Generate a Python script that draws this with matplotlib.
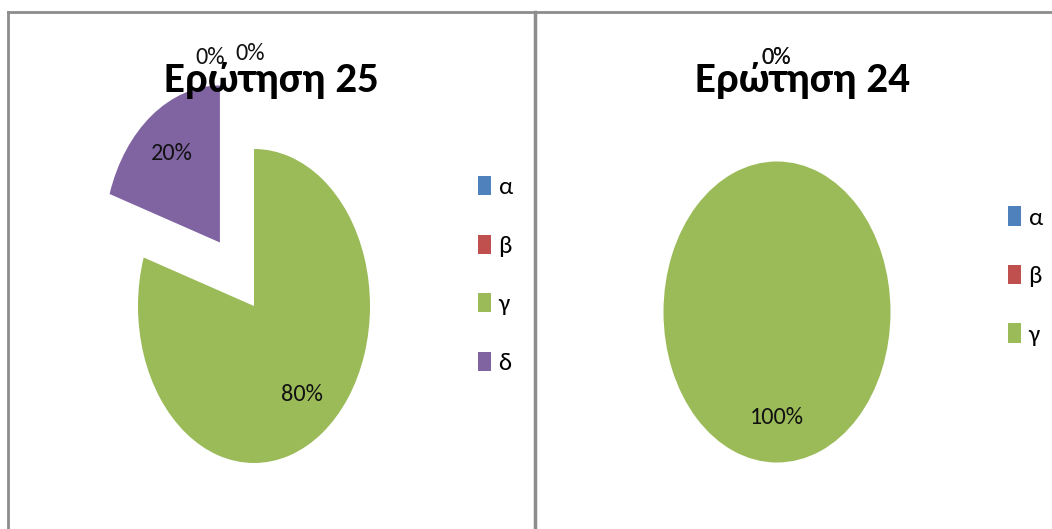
import matplotlib
matplotlib.use("Agg")
import matplotlib.pyplot as plt
from matplotlib.patches import Patch
from matplotlib.lines import Line2D

plt.rcParams['font.family'] = ['Carlito', 'DejaVu Sans']

# data
labels_25 = ['α', 'β', 'γ', 'δ']
values_25 = [0, 0, 80, 20]
labels_24 = ['α', 'β', 'γ']
values_24 = [0, 0, 100]
titles = ['Ερώτηση 25', 'Ερώτηση 24']
colors = ['#4F81BD', '#C0504D', '#9BBB59', '#8064A2']

W, H = 1052, 529


def fx(x):
    return x / W


def fy(y):
    return 1 - y / H


fig = plt.figure(figsize=(W / 100, H / 100), dpi=100)
fig.patch.set_facecolor('white')


def draw_pie(x0, x1, cx, cy, sx, sy, values, labels, explode, zero_pos, legend_xy, title_xy, title):
    ax = fig.add_axes([fx(x0), 0, fx(x1) - fx(x0), fy(12)])
    wedges, texts, autotexts = ax.pie(
        values, colors=colors[:len(values)], startangle=90, counterclock=False,
        explode=explode, autopct='%1.0f%%', pctdistance=0.7,
        wedgeprops=dict(linewidth=0),
        textprops=dict(fontsize=17.5, color='#111111'))
    ax.set_aspect('auto')
    ax.set_xlim((x0 - cx) / sx, (x1 - cx) / sx)
    ax.set_ylim(-(H - cy) / sy, (cy - 12) / sy)
    ax.axis('off')

    # zero-value labels sit above the pie
    zi = 0
    for v, t in zip(values, autotexts):
        if v == 0:
            px, py = zero_pos[zi]
            t.set_position(((px - cx) / sx, (cy - py) / sy))
            t.set_zorder(10)
            zi += 1

    handles = [Patch(facecolor=c, edgecolor='none') for c in colors[:len(values)]]
    fig.legend(handles, labels, loc='center left',
               bbox_to_anchor=(fx(legend_xy[0]), fy(legend_xy[1])),
               frameon=False, fontsize=18, labelspacing=1.45,
               handlelength=0.52, handleheight=0.8, handletextpad=0.3,
               borderpad=0, borderaxespad=0)
    fig.text(fx(title_xy[0]), fy(title_xy[1]), title, ha='center', va='baseline',
             fontsize=31, fontweight='bold', color='black')


draw_pie(8, 535, 254, 306, 116, 157, values_25, labels_25,
         [0, 0, 0, 0.5], [(210, 58), (250, 53)], (478, 275), (271, 92), titles[0])
draw_pie(537, 1052, 777, 312, 113.5, 150.5, values_24, labels_24,
         [0, 0, 0], [(776, 58), (776, 58)], (1008, 276), (802, 92), titles[1])

# panel borders
border = '#8c8c8c'
fig.add_artist(Line2D([fx(8), fx(8)], [fy(12), 0], color=border, lw=2))
fig.add_artist(Line2D([fx(8), 1], [fy(12), fy(12)], color=border, lw=2))
fig.add_artist(Line2D([fx(535), fx(535)], [fy(12), 0], color=border, lw=2.5))

fig.savefig('out.png', dpi=100)
